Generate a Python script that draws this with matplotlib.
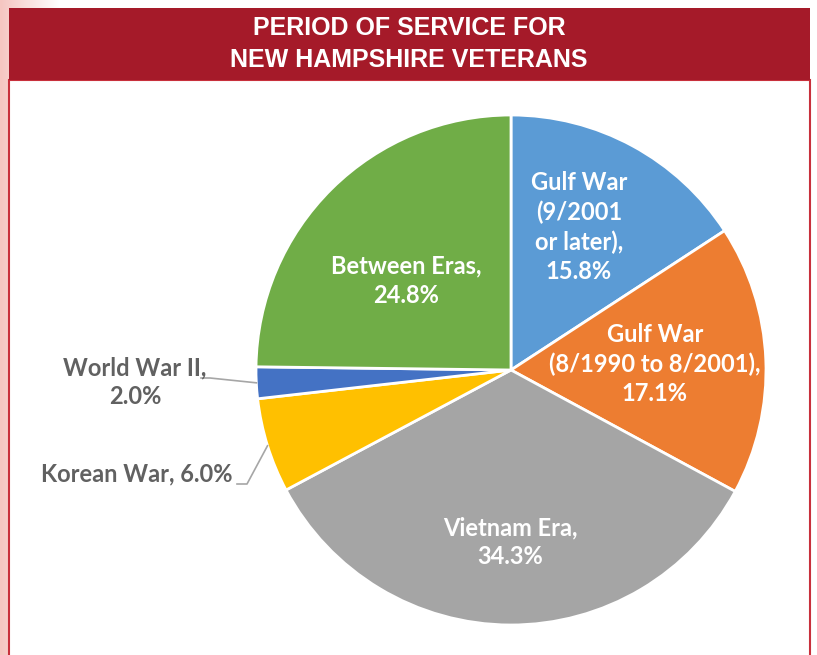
import numpy as np
import matplotlib.pyplot as plt
from matplotlib.patches import Rectangle
from matplotlib.colors import LinearSegmentedColormap

# данные
labels = ["Gulf War\n(9/2001\nor later),", "Gulf War\n(8/1990 to 8/2001),", "Vietnam Era,",
          "Korean War,", "World War II,", "Between Eras,"]
shares = [15.8, 17.1, 34.3, 6.0, 2.0, 24.8]
colors = ["#5B9BD5", "#ED7D31", "#A5A5A5", "#FFC000", "#4472C4", "#70AD47"]
title = "PERIOD OF SERVICE FOR\nNEW HAMPSHIRE VETERANS"

W, H = 817, 655
fig = plt.figure(figsize=(W / 100, H / 100), dpi=100)
ax = fig.add_axes([0, 0, 1, 1])

# фон: розовая полоса слева
grad = np.linspace(1, 0, 60).reshape(1, -1)
pink = LinearSegmentedColormap.from_list("p", ["#FFFFFF", "#F5C6C1"])
ax.imshow(grad, extent=(0, 60, 0, H), cmap=pink, aspect="auto", zorder=0)
ax.add_patch(Rectangle((9, -5), 801, H - 75, facecolor="white", edgecolor="#C8303C", lw=1.5, zorder=1))
# заголовок
ax.add_patch(Rectangle((9, H - 80), 801, 72, facecolor="#A51A29", edgecolor="none", zorder=2))
ax.text(409, H - 44, title, color="white", ha="center", va="center", fontsize=18,
        fontweight="bold", family=["Liberation Sans", "DejaVu Sans"], linespacing=1.38, zorder=3)

cx, cy, R = 511, H - 370, 255
wedges, _ = ax.pie(shares, colors=colors, startangle=90, counterclock=False, center=(cx, cy),
                   radius=R, wedgeprops=dict(edgecolor="white", linewidth=2), frame=True)
ax.set_xlim(0, W)
ax.set_ylim(0, H)
ax.set_aspect("equal")
ax.axis("off")

font = ["Lato", "DejaVu Sans"]
fs = 17
ls = 1.32
# подписи внутри секторов: доля радиуса и поправка угла
inside = {0: (0.62, -3), 1: (0.565, 0), 2: (0.675, 0), 5: (0.54, -5)}
cum = np.cumsum([0] + shares)
for i, (lab, v) in enumerate(zip(labels, shares)):
    mid = (cum[i] + cum[i + 1]) / 2 / 100 * 360
    if i in inside:
        r, d = inside[i]
        a = np.deg2rad(mid + d)
        ax.text(cx + r * R * np.sin(a), cy + r * R * np.cos(a), f"{lab}\n{v:.1f}%", color="white",
                ha="center", va="center", fontsize=fs, fontweight="bold", family=font,
                linespacing=ls, zorder=5)

# выносные подписи
a = np.deg2rad((cum[4] + cum[5]) / 2 / 100 * 360)
ex, ey = cx + R * np.sin(a), cy + R * np.cos(a)
ax.plot([ex, 210, 201], [ey, H - 378, H - 378], color="#A6A6A6", lw=1.2, zorder=4)
ax.text(135, H - 382, f"{labels[4]}\n{shares[4]:.1f}%", color="#616161", ha="center", va="center",
        fontsize=fs, fontweight="bold", family=font, linespacing=ls, zorder=5)

a = np.deg2rad((cum[3] + cum[4]) / 2 / 100 * 360)
ex, ey = cx + R * np.sin(a), cy + R * np.cos(a)
ax.plot([ex, 247, 237], [ey, H - 484, H - 484], color="#A6A6A6", lw=1.2, zorder=4)
ax.text(233, H - 474, f"{labels[3]} {shares[3]:.1f}%", color="#616161", ha="right", va="center",
        fontsize=fs, fontweight="bold", family=font, zorder=5)

fig.savefig("out.png", dpi=100)
